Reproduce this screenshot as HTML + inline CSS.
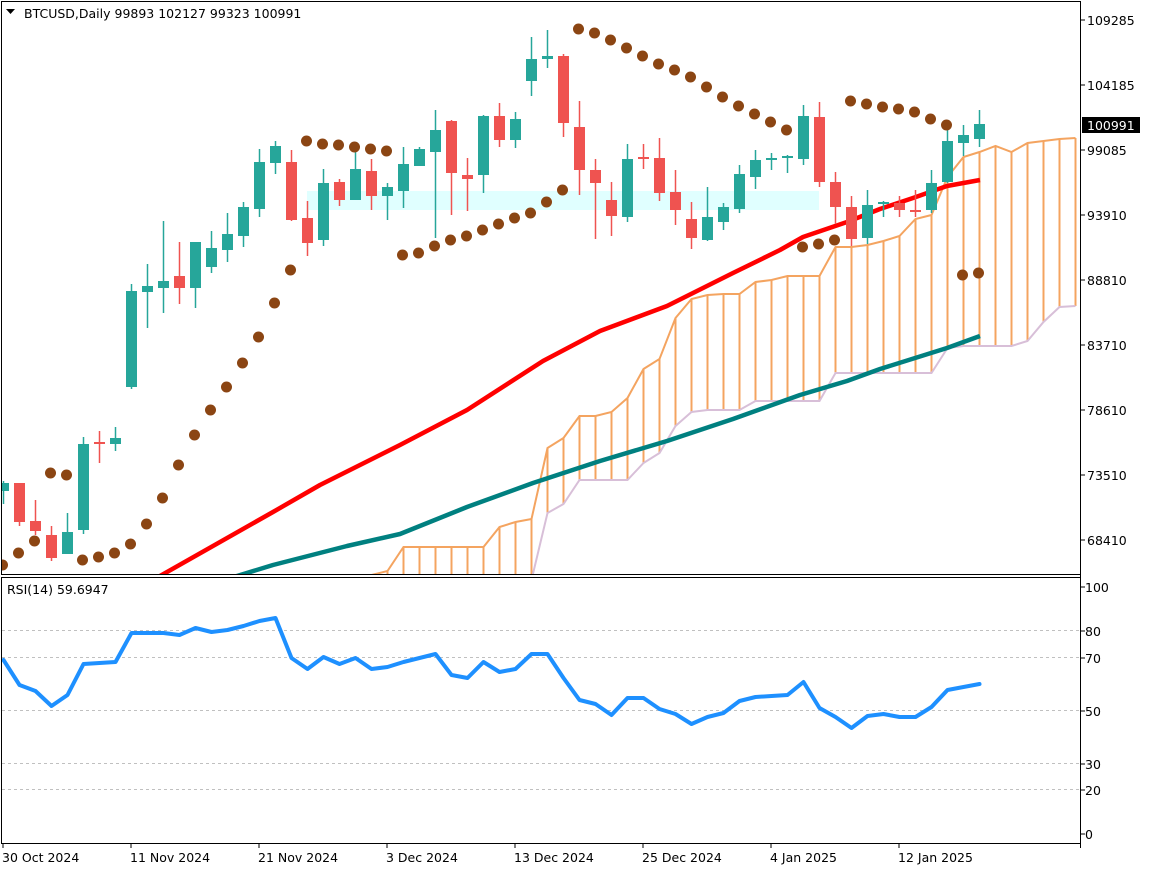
<!DOCTYPE html>
<html><head><meta charset="utf-8"><style>
html,body{margin:0;padding:0;background:#fff;}
svg{display:block;font-family:"DejaVu Sans","Liberation Sans",sans-serif;}
</style></head><body>
<svg id="s" width="1152" height="870" viewBox="0 0 1152 870" xmlns="http://www.w3.org/2000/svg">
<defs>
<clipPath id="mc"><rect x="2" y="2" width="1078" height="572"/></clipPath>
<clipPath id="rc"><rect x="2" y="578" width="1078" height="265"/></clipPath>
</defs>
<rect x="0" y="0" width="1152" height="870" fill="#fff"/>
<g id="main" clip-path="url(#mc)"></g>
<g id="rsi" clip-path="url(#rc)"></g>
<!-- borders -->
<rect x="1.5" y="1.5" width="1079" height="573" fill="none" stroke="#000" stroke-width="1"/>
<rect x="1.5" y="577.5" width="1079" height="266" fill="none" stroke="#000" stroke-width="1"/>
<g font-size="12.5" fill="#000">
<polygon points="6,9 15,9 10.5,14" fill="#000"/>
<text x="24" y="18">BTCUSD,Daily  99893 102127 99323 100991</text>
<text x="7" y="594">RSI(14) 59.6947</text>
</g>
<g id="axis" font-size="12.5" fill="#000"></g>
</svg>
<script>
const NS="http://www.w3.org/2000/svg";
function el(p,t,a,txt){const e=document.createElementNS(NS,t);for(const k in a)e.setAttribute(k,a[k]);if(txt!==undefined)e.textContent=txt;p.appendChild(e);return e;}
const M=document.getElementById('main'),R=document.getElementById('rsi'),A=document.getElementById('axis');
const X=k=>3.5+16*k;
// cyan band
el(M,'rect',{x:307,y:191,width:512,height:19,fill:'#e0ffff'});
// cloud
const SA={23:575,24:571,25:547,26:547,27:547,28:547,29:547,30:547,31:527,32:522,33:519,34:448,35:438,36:416,37:416,38:412,39:398,40:369,41:359,42:318,43:299,44:295,45:294,46:294,47:282,48:280,49:276,50:276,51:276,52:247,53:247,54:245,55:241,56:236,57:219,58:215,59:177,60:157,61:152,62:146,63:152,64:143,65:141,66:139,67:138};
const SB={33:580,34:513,35:504,36:480,37:480,38:480,39:480,40:463,41:453,42:426,43:412,44:410,45:410,46:410,47:401,48:401,49:401,50:401,51:401,52:373,53:373,54:373,55:373,56:373,57:373,58:373,59:348,60:346,61:346,62:346,63:346,64:341,65:322,66:307,67:306};
for(let k=23;k<=67;k++){const b=SB[k]!==undefined?SB[k]:580;el(M,'line',{x1:X(k),y1:SA[k],x2:X(k),y2:b,stroke:'#f4a460','stroke-width':2});}
let pa=[],pb=[];for(let k=23;k<=67;k++)pa.push(X(k)+','+SA[k]);for(let k=33;k<=67;k++)pb.push(X(k)+','+SB[k]);
el(M,'polyline',{points:pb.join(' '),fill:'none',stroke:'#d8bfd8','stroke-width':2});
el(M,'polyline',{points:pa.join(' '),fill:'none',stroke:'#f4a460','stroke-width':2});
// MAs
el(M,'polyline',{points:'150,580 160,576 273,512 320,485 400,445 467,410 543,361 600,331 667,306 733,273 780,250 803,237 847,222 880,209 913,198 947,186 980,180',fill:'none',stroke:'#ff0000','stroke-width':4.5,'stroke-linejoin':'round'});
el(M,'polyline',{points:'225,580 237,576 273,565 347,546 400,534 467,507 533,483 600,461 667,441 733,419 800,395 847,381 880,369 947,348 980,336',fill:'none',stroke:'#008080','stroke-width':4.5,'stroke-linejoin':'round'});
// candles [k,c,bt,bb,wt,wb]
const C=[[0,'g',483,491,481,504],[1,'r',483,522,483,526],[2,'r',521,531,500,535],[3,'r',535,558,526,561],[4,'g',532,554,513,554],[5,'g',444,530,437,534],[6,'r',442,444,431,463],[7,'g',438,444,427,451],[8,'g',291,387,284,389],[9,'g',286,292,264,328],[10,'g',281,288,221,313],[11,'r',276,288,242,304],[12,'g',242,288,242,308],[13,'g',248,267,231,273],[14,'g',234,250,213,262],[15,'g',207,236,202,247],[16,'g',162,209,149,217],[17,'g',146,163,141,174],[18,'r',162,220,150,221],[19,'r',218,243,201,256],[20,'g',183,240,169,246],[21,'r',182,200,179,206],[22,'g',169,200,150,200],[23,'r',171,196,159,210],[24,'g',187,196,183,220],[25,'g',164,191,147,208],[26,'g',149,166,147,166],[27,'g',130,152,110,238],[28,'r',121,173,120,215],[29,'r',175,179,158,211],[30,'g',116,175,115,193],[31,'r',116,140,103,147],[32,'g',119,140,112,148],[33,'g',59,81,37,96],[34,'g',56,59,30,68],[35,'r',56,123,54,137],[36,'r',127,170,101,195],[37,'r',170,183,159,239],[38,'r',200,216,182,236],[39,'g',159,217,144,222],[40,'r',157,159,144,169],[41,'r',158,193,138,201],[42,'r',192,210,170,225],[43,'r',219,238,202,249],[44,'g',217,240,187,241],[45,'g',207,222,203,230],[46,'g',174,209,165,213],[47,'g',160,177,150,189],[48,'g',158,160,153,170],[49,'g',156,158,155,173],[50,'g',116,159,105,165],[51,'r',117,182,102,187],[52,'r',182,207,172,224],[53,'r',207,239,196,246],[54,'g',205,238,190,244],[55,'g',202,204,201,217],[56,'r',203,210,196,217],[57,'r',210,212,190,217],[58,'g',183,210,170,213],[59,'g',141,182,130,183],[60,'g',135,143,125,156],[61,'g',124,139,110,147]];
for(const c of C){const col=c[1]=='g'?'#26a69a':'#ef5350';const x=X(c[0]);
el(M,'line',{x1:x,y1:c[4],x2:x,y2:c[5],stroke:col,'stroke-width':1.5});
el(M,'rect',{x:x-5.5,y:c[2],width:11,height:Math.max(2,c[3]-c[2]),fill:col});}
// SAR
const S=[565,553,541,473,475,560,557,553,544,524,498,465,435,410,387,363,337,303,270,141,144,145,147,149,151,255,253,246,240,236,230,224,218,213,202,190,29,33,40,48,56,64,70,77,87,97,106,114,122,130,247,244,240,101,104,107,109,112,119,125,275,273];
S.forEach((y,k)=>el(M,'ellipse',{cx:X(k)-1,cy:y,rx:5.5,ry:5.5,fill:'#8b4513'}));
// RSI
[630,657,710,763,789].forEach(y=>el(R,'line',{x1:2,y1:y+.5,x2:1080,y2:y+.5,stroke:'#c0c0c0','stroke-dasharray':'3,3','stroke-width':1}));
const RS=[660,685,691,706,695,664,663,662,633,633,633,635,628,632,630,626,621,618,658,669,657,664,658,669,667,662,658,654,675,678,662,672,669,654,654,678,700,704,715,698,698,709,714,724,717,713,701,697,696,695,682,708,717,728,716,714,717,717,707,690,687,684];
el(R,'polyline',{points:RS.map((y,k)=>X(k)+','+y).join(' '),fill:'none',stroke:'#1e90ff','stroke-width':4,'stroke-linejoin':'round','stroke-linecap':'round'});
// price axis
el(A,'line',{x1:1080.5,y1:1,x2:1080.5,y2:848,stroke:'#000'});
[[109285,20],[104185,85],[99085,150],[93910,215],[88810,280],[83710,345],[78610,410],[73510,475],[68410,540]].forEach(p=>{
el(A,'line',{x1:1080,y1:p[1],x2:1085,y2:p[1],stroke:'#000'});el(A,'text',{x:1087,y:p[1]+5},String(p[0]));});
el(A,'rect',{x:1082,y:117,width:58,height:16,fill:'#000'});
el(A,'text',{x:1087,y:130,fill:'#fff'},'100991');
[[100,587],[80,631],[70,658],[50,711],[30,764],[20,790],[0,834]].forEach(p=>{
el(A,'line',{x1:1080,y1:p[1],x2:1085,y2:p[1],stroke:'#000'});el(A,'text',{x:1085,y:p[1]+5},String(p[0]));});
// dates
[['30 Oct 2024',3],['11 Nov 2024',131],['21 Nov 2024',259],['3 Dec 2024',387],['13 Dec 2024',515],['25 Dec 2024',643],['4 Jan 2025',771],['12 Jan 2025',899]].forEach(d=>{
el(A,'line',{x1:d[1],y1:843,x2:d[1],y2:848,stroke:'#000'});el(A,'text',{x:d[1]-1,y:862},d[0]);});
</script>
</body></html>
